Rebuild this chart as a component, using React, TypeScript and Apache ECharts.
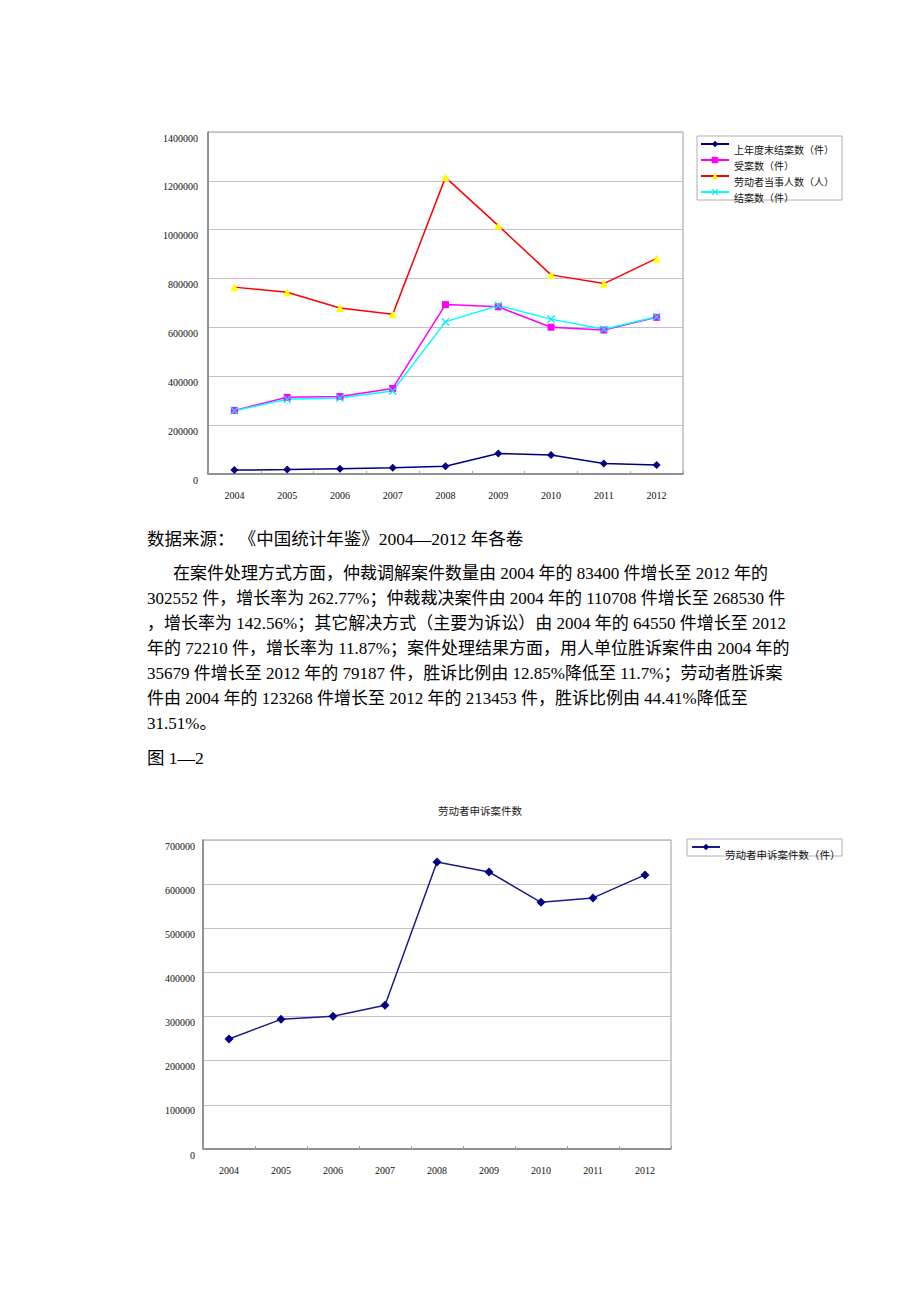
import React, { useEffect, useRef } from 'react';
import * as echarts from 'echarts';

const years = ['2004', '2005', '2006', '2007', '2008', '2009', '2010', '2011', '2012'];

const legendNamesTop = ['上年度末结案数（件）', '受案数（件）', '劳动者当事人数（人）', '结案数（件）'];
const pendingCases = [16000, 18000, 22000, 26000, 32000, 84000, 78000, 43000, 37000];
const acceptedCases = [260471, 313773, 317162, 350182, 693465, 684379, 600865, 589244, 641202];
const workerParties = [764981, 744195, 679312, 653472, 1214328, 1016922, 815121, 779490, 882487];
const closedCases = [258678, 306027, 310780, 340030, 622719, 689714, 634041, 592823, 643292];

const bottomTitle = '劳动者申诉案件数';
const bottomLegendName = '劳动者申诉案件数（件）';
const workerComplaints = [249335, 293710, 300705, 325590, 650077, 627530, 558853, 568768, 620945];

const sourceLine = '数据来源： 《中国统计年鉴》2004—2012 年各卷';
const paragraphLines = [
  '在案件处理方式方面，仲裁调解案件数量由 2004 年的 83400 件增长至 2012 年的',
  '302552 件，增长率为 262.77%；仲裁裁决案件由 2004 年的 110708 件增长至 268530 件',
  '，增长率为 142.56%；其它解决方式（主要为诉讼）由 2004 年的 64550 件增长至 2012',
  '年的 72210 件，增长率为 11.87%；案件处理结果方面，用人单位胜诉案件由 2004 年的',
  '35679 件增长至 2012 年的 79187 件，胜诉比例由 12.85%降低至 11.7%；劳动者胜诉案',
  '件由 2004 年的 123268 件增长至 2012 年的 213453 件，胜诉比例由 44.41%降低至',
  '31.51%。',
];
const figureLabel = '图 1—2';

const FONT = 'Liberation Serif, Noto Sans CJK SC, serif';
const XMARK = 'path://M0,1.2L1.2,0L5,3.8L8.8,0L10,1.2L6.2,5L10,8.8L8.8,10L5,6.2L1.2,10L0,8.8L3.8,5Z';

export default function App() {
  const ref = useRef<HTMLDivElement>(null);

  useEffect(() => {
    if (!ref.current) return;
    const chart = echarts.init(ref.current, undefined, { renderer: 'svg' });

    const axisCommonX = (gridIndex: number) => ({
      type: 'category' as const,
      gridIndex,
      data: years,
      boundaryGap: true,
      axisLine: { lineStyle: { color: '#7f7f7f', width: 1.5 } },
      axisTick: { show: true, inside: true, length: 3, alignWithLabel: false, lineStyle: { color: '#a0a0a0' } },
      axisLabel: { color: '#111', fontFamily: FONT, fontSize: 10, margin: 16 },
      splitLine: { show: false },
    });

    const axisCommonY = (gridIndex: number, max: number, interval: number, margin: number) => ({
      type: 'value' as const,
      gridIndex,
      min: 0,
      max,
      interval,
      axisLine: { show: true, lineStyle: { color: '#7f7f7f', width: 1.5 } },
      axisTick: { show: false },
      axisLabel: {
        color: '#111', fontFamily: FONT, fontSize: 10, margin, lineHeight: 12,
        formatter: (v: number) => '\n' + String(v),
      },
      splitLine: { show: true, lineStyle: { color: '#c4bfc8', width: 1 } },
    });

    const textEl = (text: string, x: number, y: number, fontSize: number) => ({
      type: 'text',
      x,
      y,
      style: { text, fontSize, fontFamily: FONT, fill: '#000', verticalAlign: 'middle', align: 'left' },
    });

    const option: any = {
      animation: false,
      backgroundColor: '#ffffff',
      title: {
        text: bottomTitle,
        left: 438,
        top: 806,
        padding: 0,
        textStyle: { fontFamily: FONT, fontSize: 10.5, fontWeight: 'normal', color: '#222' },
      },
      grid: [
        { left: 208, top: 132, width: 475, height: 342, show: true, borderColor: '#9a9a9a', borderWidth: 1, containLabel: false },
        { left: 203, top: 840, width: 468, height: 309, show: true, borderColor: '#9a9a9a', borderWidth: 1, containLabel: false },
      ],
      legend: [
        {
          data: legendNamesTop,
          orient: 'vertical',
          left: 700,
          top: 132,
          padding: 0,
          itemWidth: 28,
          itemHeight: 8,
          itemGap: -8,
          selectedMode: false,
          formatter: (name: string) => '\n' + name,
          textStyle: { fontFamily: FONT, fontSize: 10, color: '#111', lineHeight: 12 },
        },
        {
          data: [bottomLegendName],
          orient: 'vertical',
          left: 691,
          top: 831,
          padding: 0,
          itemWidth: 28,
          itemHeight: 8,
          selectedMode: false,
          formatter: (name: string) => '\n' + name,
          textStyle: { fontFamily: FONT, fontSize: 10.5, color: '#111', lineHeight: 16 },
        },
      ],
      xAxis: [axisCommonX(0), axisCommonX(1)],
      yAxis: [axisCommonY(0, 1400000, 200000, 10), axisCommonY(1, 700000, 100000, 8)],
      series: [
        {
          name: legendNamesTop[0], type: 'line', xAxisIndex: 0, yAxisIndex: 0, data: pendingCases,
          symbol: 'diamond', symbolSize: 8, color: '#000080',
          lineStyle: { color: '#000080', width: 1.5 }, itemStyle: { color: '#000080' },
        },
        {
          name: legendNamesTop[1], type: 'line', xAxisIndex: 0, yAxisIndex: 0, data: acceptedCases,
          symbol: 'rect', symbolSize: 7, color: '#ff00ff',
          lineStyle: { color: '#ff00ff', width: 1.5 }, itemStyle: { color: '#ff00ff' },
        },
        {
          name: legendNamesTop[2], type: 'line', xAxisIndex: 0, yAxisIndex: 0, data: workerParties,
          symbol: 'triangle', symbolSize: 8, color: '#ffff00',
          lineStyle: { color: '#ff0000', width: 1.5 }, itemStyle: { color: '#ffff00' },
        },
        {
          name: legendNamesTop[3], type: 'line', xAxisIndex: 0, yAxisIndex: 0, data: closedCases,
          symbol: XMARK, symbolSize: 8, color: '#00ffff',
          lineStyle: { color: '#00ffff', width: 1.5 }, itemStyle: { color: '#00e8f0' },
        },
        {
          name: bottomLegendName, type: 'line', xAxisIndex: 1, yAxisIndex: 1, data: workerComplaints,
          symbol: 'diamond', symbolSize: 9, color: '#000080',
          lineStyle: { color: '#1a1a8c', width: 1.5 }, itemStyle: { color: '#000080' },
        },
      ],
      graphic: [
        { type: 'rect', shape: { x: 697, y: 136, width: 145, height: 64 }, style: { fill: 'none', stroke: '#b0b0b0', lineWidth: 1 }, z: 0 },
        { type: 'rect', shape: { x: 687, y: 839, width: 155, height: 17 }, style: { fill: 'none', stroke: '#b0b0b0', lineWidth: 1 }, z: 0 },
        textEl(sourceLine, 147, 539, 17.5),
        textEl(paragraphLines[0], 173, 573, 17),
        textEl(paragraphLines[1], 147, 598, 17),
        textEl(paragraphLines[2], 147, 623, 17),
        textEl(paragraphLines[3], 147, 648, 17),
        textEl(paragraphLines[4], 147, 673, 17),
        textEl(paragraphLines[5], 147, 698, 17),
        textEl(paragraphLines[6], 147, 723, 17),
        textEl(figureLabel, 147, 758, 17.5),
      ],
    };

    chart.setOption(option);
    return () => chart.dispose();
  }, []);

  return (
    <div
      ref={ref}
      style={{ position: 'absolute', left: 0, top: 0, width: 920, height: 1302, background: '#fff' }}
    />
  );
}
